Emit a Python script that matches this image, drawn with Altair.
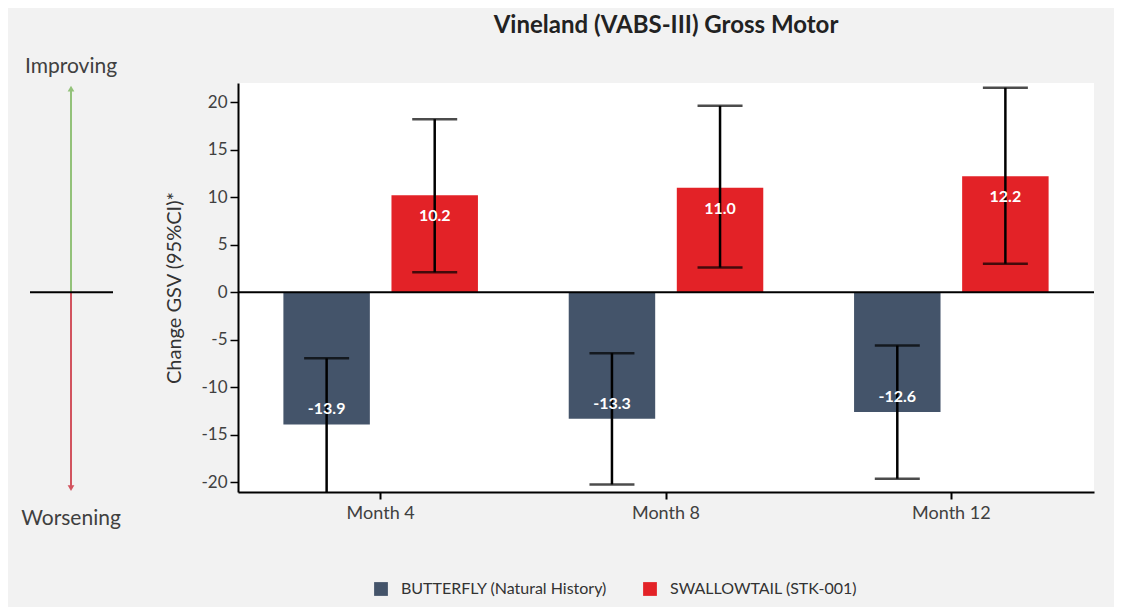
import altair as alt
import pandas as pd

months = ["Month 4", "Month 8", "Month 12"]
groups = ["BUTTERFLY (Natural History)", "SWALLOWTAIL (STK-001)"]
butterfly_mean = [-13.9, -13.3, -12.6]
butterfly_lo = [-21.6, -20.2, -19.6]
butterfly_hi = [-6.95, -6.4, -5.6]
swallowtail_mean = [10.2, 11.0, 12.2]
swallowtail_lo = [2.1, 2.6, 3.0]
swallowtail_hi = [18.2, 19.6, 21.5]
labels_butterfly = ["-13.9", "-13.3", "-12.6"]
labels_swallowtail = ["10.2", "11.0", "12.2"]
y_ticks = [-20, -15, -10, -5, 0, 5, 10, 15, 20]

rows = []
for i, m in enumerate(months):
    rows.append(dict(month=m, group=groups[0], mean=butterfly_mean[i], lo=butterfly_lo[i],
                     hi=butterfly_hi[i], label=labels_butterfly[i]))
    rows.append(dict(month=m, group=groups[1], mean=swallowtail_mean[i], lo=swallowtail_lo[i],
                     hi=swallowtail_hi[i], label=labels_swallowtail[i]))
df = pd.DataFrame(rows)

FONT = "Lato"
W, H = 856, 409
PAD_L, PAD_T = 230, 75
PAD_R = 1106 - W - PAD_L
PAD_B = 599 - H - PAD_T

yscale = alt.Scale(domain=[-21, 22], nice=False, zero=False)
xenc = alt.X("month:N", sort=months, scale=alt.Scale(paddingInner=0, paddingOuter=0),
             axis=alt.Axis(title=None, labelFontSize=18, labelColor="#404040", labelFont=FONT,
                           domainColor="black", domainWidth=2, tickColor="black", tickWidth=2,
                           tickSize=7, labelPadding=5, labelAngle=0))
xoff = alt.XOffset("group:N", sort=groups, scale=alt.Scale(paddingInner=0.2, paddingOuter=0.42))

base = alt.Chart(df)

bars = base.mark_bar().encode(
    x=xenc,
    xOffset=xoff,
    y=alt.Y("mean:Q", scale=yscale,
            axis=alt.Axis(title="Change GSV (95%CI)*", titleFontSize=20, titleFont=FONT,
                          titleFontWeight="normal", titleColor="#333333", titlePadding=16,
                          values=y_ticks,
                          labelExpr="datum.value < 0 ? '-' + abs(datum.value) : '' + datum.value",
                          labelFontSize=17, labelFont=FONT, labelColor="#404040",
                          domainColor="black", domainWidth=2, tickColor="black", tickWidth=1.5,
                          tickSize=8, labelPadding=3, grid=False)),
    color=alt.Color("group:N", sort=groups,
                    scale=alt.Scale(domain=groups, range=["#44546a", "#e32227"]),
                    legend=alt.Legend(title=None, orient="none", direction="horizontal",
                                      legendX=135, legendY=498, symbolType="square",
                                      symbolSize=190, symbolStrokeWidth=0, symbolOpacity=1,
                                      labelFontSize=16, labelFont=FONT, labelColor="#333333",
                                      labelLimit=0, labelOffset=12, columnPadding=34)),
)

err = base.mark_rule(color="black", strokeWidth=2.5, clip=True).encode(
    x=alt.X("month:N", sort=months), xOffset=xoff, y=alt.Y("lo:Q", scale=yscale), y2="hi:Q")

caps_lo = base.mark_tick(color="black", thickness=2.5, size=45, orient="horizontal", clip=True).encode(
    x=alt.X("month:N", sort=months), xOffset=xoff, y=alt.Y("lo:Q", scale=yscale))
caps_hi = base.mark_tick(color="black", thickness=2.5, size=45, orient="horizontal", clip=True).encode(
    x=alt.X("month:N", sort=months), xOffset=xoff, y=alt.Y("hi:Q", scale=yscale))

text_neg = base.transform_filter(alt.datum.mean < 0).mark_text(
    color="white", fontWeight="bold", fontSize=16, font=FONT, baseline="middle", dy=-15).encode(
    x=alt.X("month:N", sort=months), xOffset=xoff,
    y=alt.Y("mean:Q", scale=yscale), text="label:N")
text_pos = base.transform_filter(alt.datum.mean >= 0).mark_text(
    color="white", fontWeight="bold", fontSize=16, font=FONT, baseline="middle", dy=21).encode(
    x=alt.X("month:N", sort=months), xOffset=xoff,
    y=alt.Y("mean:Q", scale=yscale), text="label:N")

zero = alt.Chart(pd.DataFrame({"z": [0]})).mark_rule(color="black", strokeWidth=2).encode(
    y=alt.Y("z:Q", scale=yscale), x=alt.value(0), x2=alt.value(W))

# left-side direction indicator
ind = pd.DataFrame({"zero": [0], "up": [21.4], "down": [-20.6]})
ind_base = alt.Chart(ind)
green_line = ind_base.mark_rule(color="#93c27a", strokeWidth=2).encode(
    x=alt.value(-167), y=alt.Y("zero:Q", scale=yscale), y2="up:Q")
red_line = ind_base.mark_rule(color="#d2545f", strokeWidth=2).encode(
    x=alt.value(-167), y=alt.Y("zero:Q", scale=yscale), y2="down:Q")
green_head = ind_base.mark_point(shape="triangle-up", filled=True, size=45, color="#93c27a", opacity=1).encode(
    x=alt.value(-167), y=alt.Y("up:Q", scale=yscale))
red_head = ind_base.mark_point(shape="triangle-down", filled=True, size=45, color="#d2545f", opacity=1).encode(
    x=alt.value(-167), y=alt.Y("down:Q", scale=yscale))
hline = ind_base.mark_rule(color="black", strokeWidth=2).encode(
    x=alt.value(-208), x2=alt.value(-125), y=alt.Y("zero:Q", scale=yscale))
improving = ind_base.mark_text(text="Improving", fontSize=21, font=FONT, color="#404040").encode(
    x=alt.value(-167), y=alt.value(-16))
worsening = ind_base.mark_text(text="Worsening", fontSize=21, font=FONT, color="#404040").encode(
    x=alt.value(-167), y=alt.value(436))

chart = alt.layer(
    bars, zero, err, caps_lo, caps_hi, text_neg, text_pos,
    green_line, red_line, green_head, red_head, hline, improving, worsening,
).properties(
    width=W, height=H,
    title=alt.Title("Vineland (VABS-III) Gross Motor", fontSize=24, font=FONT, fontWeight="bold",
                    color="#222222", anchor="middle", offset=18),
    autosize=alt.AutoSizeParams(type="none"),
    padding={"left": PAD_L, "top": PAD_T, "right": PAD_R, "bottom": PAD_B},
    background="#f2f2f2",
).configure_view(fill="white", stroke=None)

chart.save("out.html", embed_options={"renderer": "svg", "actions": False})
